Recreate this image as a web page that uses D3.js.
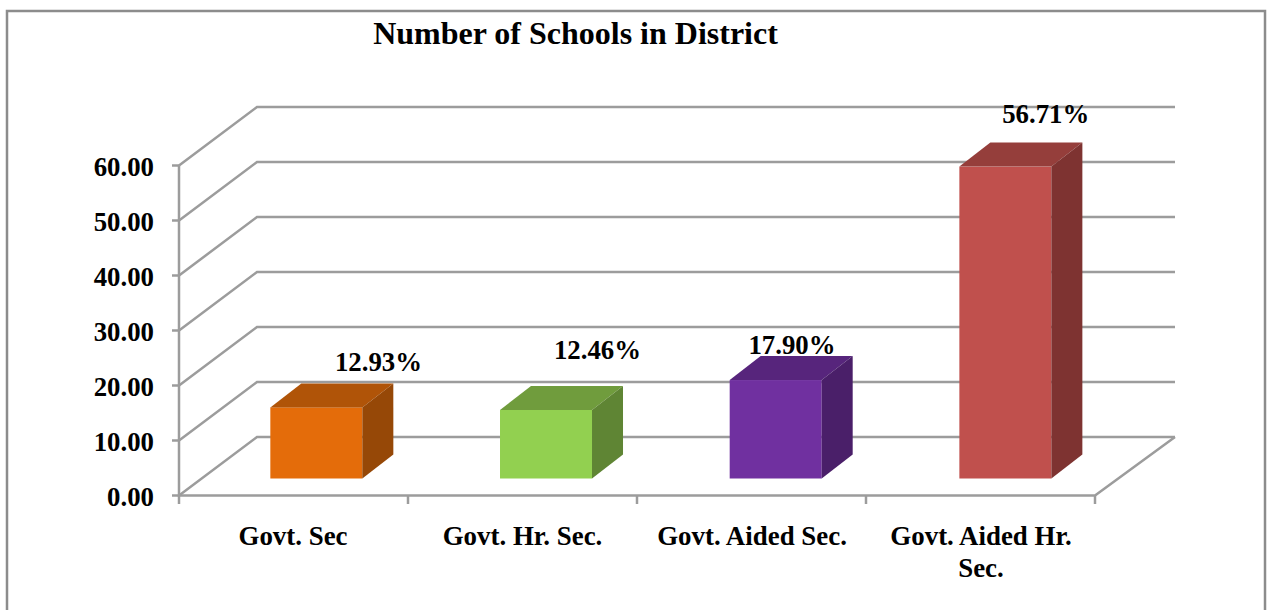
<!DOCTYPE html>
<html><head><meta charset="utf-8">
<script src="https://cdn.jsdelivr.net/npm/d3@7"></script>
<style>html,body{margin:0;padding:0;background:#fff}svg{display:block}text{font-family:"Liberation Serif",serif;font-weight:bold;fill:#000}</style>
</head><body><svg id="c" width="1270" height="610"></svg>
<script>
const categories=["Govt. Sec","Govt. Hr. Sec.","Govt. Aided Sec.","Govt. Aided Hr. Sec."];
const values=[12.93,12.46,17.90,56.71];
const labels=["12.93%","12.46%","17.90%","56.71%"];
const ticks=[0,10,20,30,40,50,60];
const tickLabels=["0.00","10.00","20.00","30.00","40.00","50.00","60.00"];
const front=["#e46c0a","#92d050","#7030a0","#c0504d"];
const top_=["#b05408","#709c3d","#57257c","#953e3b"];
const side=["#964807","#5f8534","#4a1f69","#7e3331"];
const svg=d3.select("#c");
svg.append("rect").attr("x",7).attr("y",11).attr("width",1258).attr("height",620).attr("fill","#fff").attr("stroke","#8c8c8c").attr("stroke-width",2.5);
const y=d3.scaleLinear().domain([0,60]).range([495.5,165.5]);
const x=d3.scaleBand().domain(categories).range([179,1095]);
const xb=d3.scaleBand().domain(categories).range([201.5,1120.2]);
const dx=78,dy=-58.5;
const grid="#9c9c9c";
const sw=2.5;
const g=svg.append("g");
ticks.forEach((t,i)=>{
  g.append("path").attr("d",`M${x.range()[0]},${y(t)}L${x.range()[0]+dx},${y(t)+dy}H1175`).attr("fill","none").attr("stroke",grid).attr("stroke-width",sw);
  g.append("line").attr("x1",172).attr("x2",179).attr("y1",y(t)).attr("y2",y(t)).attr("stroke",grid).attr("stroke-width",sw);
  g.append("text").attr("x",154).attr("y",y(t)+10).attr("text-anchor","end").attr("font-size",26.8).text(tickLabels[i]);
});
g.append("path").attr("d",`M179,${y(60)}V${y(0)}H1095L1175,${y(0)+dy}`).attr("fill","none").attr("stroke",grid).attr("stroke-width",sw);
categories.forEach(c=>{const xx=x(c);g.append("line").attr("x1",xx).attr("x2",xx).attr("y1",495).attr("y2",504).attr("stroke",grid).attr("stroke-width",sw)});
g.append("line").attr("x1",1095).attr("x2",1095).attr("y1",495).attr("y2",504).attr("stroke",grid).attr("stroke-width",sw);
const bw=92,ddx=31,ddy=-24,base=478.5;
const yb=d3.scaleLinear().domain([0,60]).range([base,base-330]);
categories.forEach((c,i)=>{
  const l=xb(c)+xb.bandwidth()/2-bw/2,r=l+bw,t=yb(values[i]);
  svg.append("rect").attr("x",l).attr("y",t).attr("width",bw).attr("height",base-t).attr("fill",front[i]);
  svg.append("path").attr("d",`M${l},${t}L${l+ddx},${t+ddy}H${r+ddx}L${r},${t}Z`).attr("fill",top_[i]);
  svg.append("path").attr("d",`M${r},${t}L${r+ddx},${t+ddy}V${base+ddy}L${r},${base}Z`).attr("fill",side[i]);
});
const lblX=[378.5,597.5,792,1045.7],lblY=[371,359,354,122.5];
labels.forEach((s,i)=>svg.append("text").attr("x",lblX[i]).attr("y",lblY[i]).attr("text-anchor","middle").attr("font-size",26.8).text(s));
svg.append("text").attr("x",575.5).attr("y",44).attr("text-anchor","middle").attr("font-size",32).text("Number of Schools in District");
const catLines=[["Govt. Sec"],["Govt. Hr. Sec."],["Govt. Aided Sec."],["Govt. Aided Hr.","Sec."]];
const catX=[293,522.5,752,981];
catLines.forEach((ls,i)=>ls.forEach((s,j)=>svg.append("text").attr("x",catX[i]).attr("y",545+j*32).attr("text-anchor","middle").attr("font-size",26.9).text(s)));
</script></body></html>
